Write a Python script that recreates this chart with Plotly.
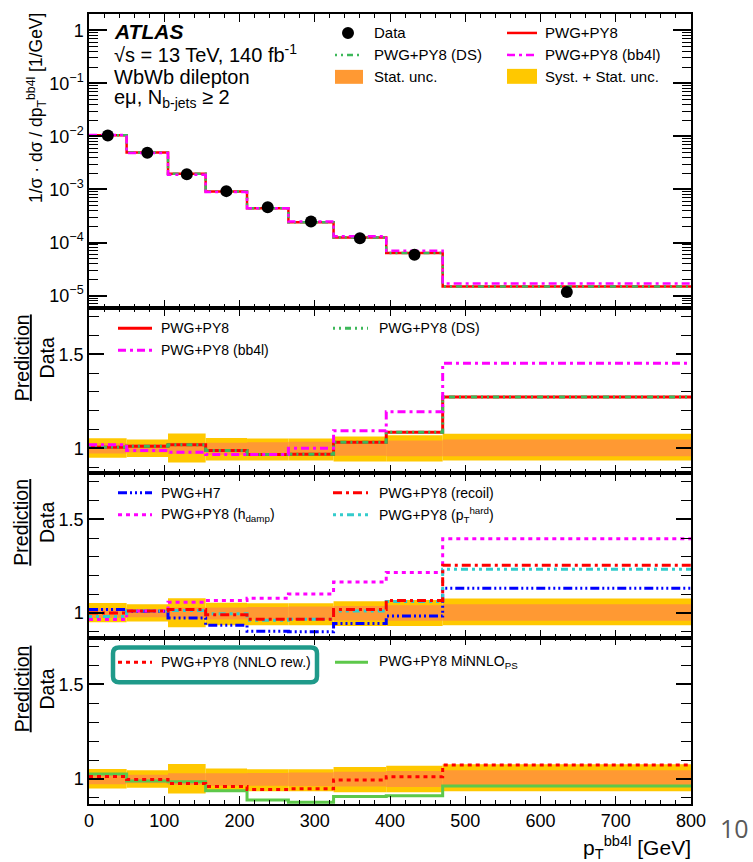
import plotly.graph_objects as go

# ---- binning and measured distribution ----
bin_edges = [0, 50, 105, 155, 210, 265, 325, 395, 470, 800]
data_vals = [1.04e-2, 4.93e-3, 1.94e-3, 9.3e-4, 4.6e-4, 2.48e-4, 1.2e-4, 5.87e-5, 1.17e-5]

# uncertainty bands (relative, up / down)
syst_up = [0.053, 0.047, 0.079, 0.055, 0.052, 0.052, 0.063, 0.070, 0.078]
syst_dn = [0.050, 0.046, 0.076, 0.065, 0.065, 0.065, 0.070, 0.070, 0.065]
stat_up = [0.027, 0.022, 0.030, 0.030, 0.032, 0.035, 0.038, 0.042, 0.047]
stat_dn = [0.027, 0.022, 0.030, 0.035, 0.036, 0.038, 0.040, 0.042, 0.042]

# prediction / data ratios
r_nominal = [1.005, 1.011, 1.019, 0.989, 0.967, 0.968, 1.032, 1.086, 1.273]
r_ds      = [1.005, 1.011, 1.019, 0.989, 0.967, 0.968, 1.032, 1.086, 1.273]
r_bb4l    = [1.019, 0.988, 0.979, 0.967, 0.967, 1.000, 1.093, 1.194, 1.452]
r_h7      = [1.019, 1.009, 0.974, 0.935, 0.903, 0.900, 0.944, 0.984, 1.132]
r_recoil  = [1.000, 1.011, 1.019, 0.991, 0.967, 0.967, 1.019, 1.067, 1.255]
r_hdamp   = [0.965, 1.011, 1.058, 1.067, 1.079, 1.102, 1.165, 1.217, 1.396]
r_pthard  = [0.982, 1.011, 1.014, 0.996, 0.961, 0.967, 1.011, 1.062, 1.234]
r_nnlo    = [1.013, 0.998, 0.976, 0.960, 0.945, 0.948, 0.995, 1.012, 1.074]
r_minnlo  = [1.027, 0.990, 0.986, 0.938, 0.889, 0.877, 0.907, 0.912, 0.963]

x_ticks_major = 100
y_top_ticks = [1e-5, 1e-4, 1e-3, 1e-2, 1e-1, 1]
y_top_labels = ["10<sup>\u22125</sup>", "10<sup>\u22124</sup>", "10<sup>\u22123</sup>",
                "10<sup>\u22122</sup>", "10<sup>\u22121</sup>", "1"]

centers = [(a + b) / 2 for a, b in zip(bin_edges[:-1], bin_edges[1:])]
widths = [b - a for a, b in zip(bin_edges[:-1], bin_edges[1:])]

RED = "#FF0000"
MAG = "#FF00FF"
GREEN_DS = "#3DB85A"
BLUE = "#0000FF"
CYAN = "#33CCCC"
GREEN_MI = "#5DC84A"
YELLOW = "#FFC800"
ORANGE = "#FF9933"
FONT = "Liberation Sans, Arial, sans-serif"

# page geometry (pixels) used for placing text and legend samples
L, RGT, TOP, BOT = 89, 691, 12, 804
W, H = RGT - L, BOT - TOP


def pp(x, y):
    return (x - L) / W, (BOT - y) / H


def step(vals):
    return list(bin_edges), list(vals) + [vals[-1]]


fig = go.Figure()

# ---- top panel: distribution ----
for vals, color, dash, wdt in [
    ([d * r for d, r in zip(data_vals, r_nominal)], RED, "solid", 2.5),
    ([d * r for d, r in zip(data_vals, r_ds)], GREEN_DS, "2px,4px,2px,4px,6px,4px", 2.5),
    ([d * r for d, r in zip(data_vals, r_bb4l)], MAG, "8px,4px,3px,4px", 2.5),
]:
    xs, ys = step(vals)
    fig.add_trace(go.Scatter(x=xs, y=ys, mode="lines", line=dict(color=color, width=wdt, dash=dash, shape="hv"),
                             xaxis="x", yaxis="y", showlegend=False, hoverinfo="skip"))
fig.add_trace(go.Scatter(x=centers, y=data_vals, mode="markers", marker=dict(color="black", size=12),
                         xaxis="x", yaxis="y", showlegend=False))


def add_bands(ax):
    fig.add_trace(go.Bar(x=centers, y=[u + d for u, d in zip(syst_up, syst_dn)], base=[1 - d for d in syst_dn],
                         width=widths, marker=dict(color=YELLOW, line=dict(width=0)),
                         xaxis="x" + ax, yaxis="y" + ax, showlegend=False, hoverinfo="skip"))
    fig.add_trace(go.Bar(x=centers, y=[u + d for u, d in zip(stat_up, stat_dn)], base=[1 - d for d in stat_dn],
                         width=widths, marker=dict(color=ORANGE, line=dict(width=0)),
                         xaxis="x" + ax, yaxis="y" + ax, showlegend=False, hoverinfo="skip"))


def add_ratio(ax, vals, color, dash, wdt=3):
    xs, ys = step(vals)
    fig.add_trace(go.Scatter(x=xs, y=ys, mode="lines", line=dict(color=color, width=wdt, dash=dash, shape="hv"),
                             xaxis="x" + ax, yaxis="y" + ax, showlegend=False, hoverinfo="skip"))


STY = {
    "nominal": (RED, "solid"),
    "ds": (GREEN_DS, "2px,4px,2px,4px,6px,4px"),
    "bb4l": (MAG, "8px,4px,3px,4px"),
    "h7": (BLUE, "9px,3px,2px,3px,2px,3px,2px,3px"),
    "recoil": (RED, "9px,4px,3px,4px"),
    "hdamp": (MAG, "4px,4px"),
    "pthard": (CYAN, "3px,4px,3px,4px,7px,4px"),
    "nnlo": (RED, "4px,4px"),
    "minnlo": (GREEN_MI, "solid"),
}

# ---- ratio panel 2 ----
add_bands("2")
add_ratio("2", r_nominal, *STY["nominal"])
add_ratio("2", r_ds, *STY["ds"])
add_ratio("2", r_bb4l, *STY["bb4l"])
# ---- ratio panel 3 ----
add_bands("3")
add_ratio("3", r_h7, *STY["h7"])
add_ratio("3", r_hdamp, *STY["hdamp"])
add_ratio("3", r_pthard, *STY["pthard"])
add_ratio("3", r_recoil, *STY["recoil"])
# ---- ratio panel 4 ----
add_bands("4")
add_ratio("4", r_minnlo, *STY["minnlo"])
add_ratio("4", r_nnlo, *STY["nnlo"])

# ---- axes ----
domains = [
    [(BOT - 306.5) / H, 1.0],
    [(BOT - 472.3) / H, (BOT - 306.5) / H],
    [(BOT - 637.3) / H, (BOT - 472.3) / H],
    [0.0, (BOT - 637.3) / H],
]
xcommon = dict(range=[0, 800], showline=True, linecolor="black", linewidth=1.5, mirror="allticks",
               ticks="inside", ticklen=8, tickwidth=1.2, tickcolor="black", tick0=0, dtick=x_ticks_major,
               minor=dict(ticks="inside", ticklen=4, dtick=20, tickcolor="black", tickwidth=1),
               showgrid=False, zeroline=False, tickfont=dict(family=FONT, size=18, color="black"))
layout = dict(width=753, height=862, margin=dict(l=L, r=753 - RGT, t=TOP, b=862 - BOT),
              plot_bgcolor="white", paper_bgcolor="white", barmode="overlay", showlegend=False,
              font=dict(family=FONT, color="black"))
for i in range(4):
    sfx = "" if i == 0 else str(i + 1)
    xa = dict(xcommon, anchor="y" + sfx, showticklabels=(i == 3))
    if i > 0:
        xa["matches"] = "x"
    layout["xaxis" + sfx] = xa
    if i == 0:
        ya = dict(type="log", range=[-5.229, 0.306], tickmode="array", tickvals=y_top_ticks, ticktext=y_top_labels,
                  minor=dict(ticks="inside", ticklen=9, dtick="D1", tickcolor="black", tickwidth=1))
        ya["ticklen"] = 18
    else:
        ya = dict(range=[0.868, 1.747], tick0=0, dtick=0.5,
                  minor=dict(ticks="inside", ticklen=10, tick0=0, dtick=0.1, tickcolor="black", tickwidth=1))
        ya["ticklen"] = 15
    ya.update(domain=domains[i], anchor="x" + sfx, showline=True, linecolor="black", linewidth=1.5,
              mirror="allticks", ticks="inside", tickwidth=1.5, tickcolor="black", showgrid=False,
              zeroline=False, tickfont=dict(family=FONT, size=18, color="black"))
    layout["yaxis" + sfx] = ya
fig.update_layout(**layout)

shapes = []
annotations = []


def text(x, y, s, size, anchor="left", **kw):
    xx, yy = pp(x, y)
    annotations.append(dict(x=xx, y=yy, xref="paper", yref="paper", text=s, showarrow=False,
                            xanchor=anchor, yanchor="middle", font=dict(family=FONT, size=size, color=kw.pop("color", "black")),
                            **kw))


def line_sample(x0, x1, y, color, dash, width=3):
    a, b = pp(x0, y)
    c, _ = pp(x1, y)
    shapes.append(dict(type="line", xref="paper", yref="paper", x0=a, x1=c, y0=b, y1=b,
                       line=dict(color=color, width=width, dash=dash)))


def box_sample(x0, x1, y0, y1, color):
    a, b = pp(x0, y0)
    c, d = pp(x1, y1)
    shapes.append(dict(type="rect", xref="paper", yref="paper", x0=a, x1=c, y0=b, y1=d,
                       fillcolor=color, line=dict(width=0)))


# ---- ATLAS label ----
text(112, 30, "<b><i>ATLAS</i></b>", 21)
text(112, 52, "\u221as = 13 TeV, 140 fb<sup>-1</sup>", 20)
text(112, 75, "WbWb dilepton", 20)
text(112, 97, "e\u03bc, N<sub>b-jets</sub> \u2265 2", 20)

# ---- top legend ----
cx, cy = pp(348, 31)
rx, ry = 6 / W, 6 / H
shapes.append(dict(type="circle", xref="paper", yref="paper", x0=cx - rx, x1=cx + rx, y0=cy - ry, y1=cy + ry,
                   fillcolor="black", line=dict(color="black", width=0)))
text(372, 31, "Data", 15)
line_sample(335, 362, 53, GREEN_DS, STY["ds"][1], 2.5)
text(372, 53, "PWG+PY8 (DS)", 15)
box_sample(335, 363, 68, 82, ORANGE)
text(372, 75, "Stat. unc.", 15)
line_sample(507, 537, 31, RED, "solid", 2.5)
text(543, 31, "PWG+PY8", 15)
line_sample(507, 537, 53, MAG, STY["bb4l"][1], 2.5)
text(543, 53, "PWG+PY8 (bb4l)", 15)
box_sample(507, 537, 67, 82, YELLOW)
text(543, 75, "Syst. + Stat. unc.", 15)

# ---- ratio legends ----
line_sample(118, 152, 327, *STY["nominal"])
text(159, 327, "PWG+PY8", 14)
line_sample(118, 152, 349, *STY["bb4l"])
text(159, 349, "PWG+PY8 (bb4l)", 14)
line_sample(333, 368, 327, *STY["ds"])
text(377, 327, "PWG+PY8 (DS)", 14)

line_sample(118, 152, 492, *STY["h7"])
text(159, 492, "PWG+H7", 14)
line_sample(118, 152, 514, *STY["hdamp"])
text(159, 514, "PWG+PY8 (h<sub>damp</sub>)", 14)
line_sample(333, 368, 492, *STY["recoil"])
text(377, 492, "PWG+PY8 (recoil)", 14)
line_sample(333, 368, 514, *STY["pthard"])
text(377, 514, "PWG+PY8 (p<sub>T</sub><sup>hard</sup>)", 14)

line_sample(118, 152, 662, *STY["nnlo"])
text(159, 662, "PWG+PY8 (NNLO rew.)", 14)
line_sample(335, 368, 662, *STY["minnlo"])
text(377, 662, "PWG+PY8 MiNNLO<sub>PS</sub>", 14)

# highlight frame around the NNLO-reweighted entry
x0, x1, y0, y1, r = 113, 317, 647, 682, 6
pts = [("M", x0 + r, y0), ("L", x1 - r, y0), ("Q", x1, y0, x1, y0 + r), ("L", x1, y1 - r),
       ("Q", x1, y1, x1 - r, y1), ("L", x0 + r, y1), ("Q", x0, y1, x0, y1 - r), ("L", x0, y0 + r),
       ("Q", x0, y0, x0 + r, y0)]
path = ""
for p in pts:
    cmd, coords = p[0], p[1:]
    segs = []
    for k in range(0, len(coords), 2):
        a, b = pp(coords[k], coords[k + 1])
        segs.append(f"{a:.5f},{b:.5f}")
    path += cmd + " " + " ".join(segs) + " "
shapes.append(dict(type="path", xref="paper", yref="paper", path=path + "Z",
                   line=dict(color="#1F9A8A", width=4.5)))

# ---- axis titles ----
tx, ty = pp(36, 9)
annotations.append(dict(x=tx, y=ty, xref="paper", yref="paper", showarrow=False, textangle=-90,
                        xanchor="center", yanchor="top",
                        text="1/\u03c3 \u00b7 d\u03c3 / dp<sub>T</sub><sup>bb4l</sup> [1/GeV]",
                        font=dict(family=FONT, size=17.5, color="black")))
for yc in [357, 522, 689]:
    tx, ty = pp(34, yc)
    annotations.append(dict(x=tx, y=ty, xref="paper", yref="paper", showarrow=False, textangle=-90,
                            xanchor="center", yanchor="middle", text="<u>Prediction</u><br>Data",
                            font=dict(family=FONT, size=19.5, color="black")))
tx, ty = pp(693, 848)
annotations.append(dict(x=tx, y=ty, xref="paper", yref="paper", showarrow=False, xanchor="right",
                        yanchor="middle", text="p<sub>T</sub><sup>bb4l</sup> [GeV]",
                        font=dict(family=FONT, size=21, color="black")))

# slide page number
tx, ty = pp(734, 828)
annotations.append(dict(x=tx, y=ty, xref="paper", yref="paper", showarrow=False, xanchor="center",
                        yanchor="middle", text="10", font=dict(family="Open Sans, sans-serif", size=25, color="#595959")))

fig.update_layout(shapes=shapes, annotations=annotations)
fig.write_html("out.html")
